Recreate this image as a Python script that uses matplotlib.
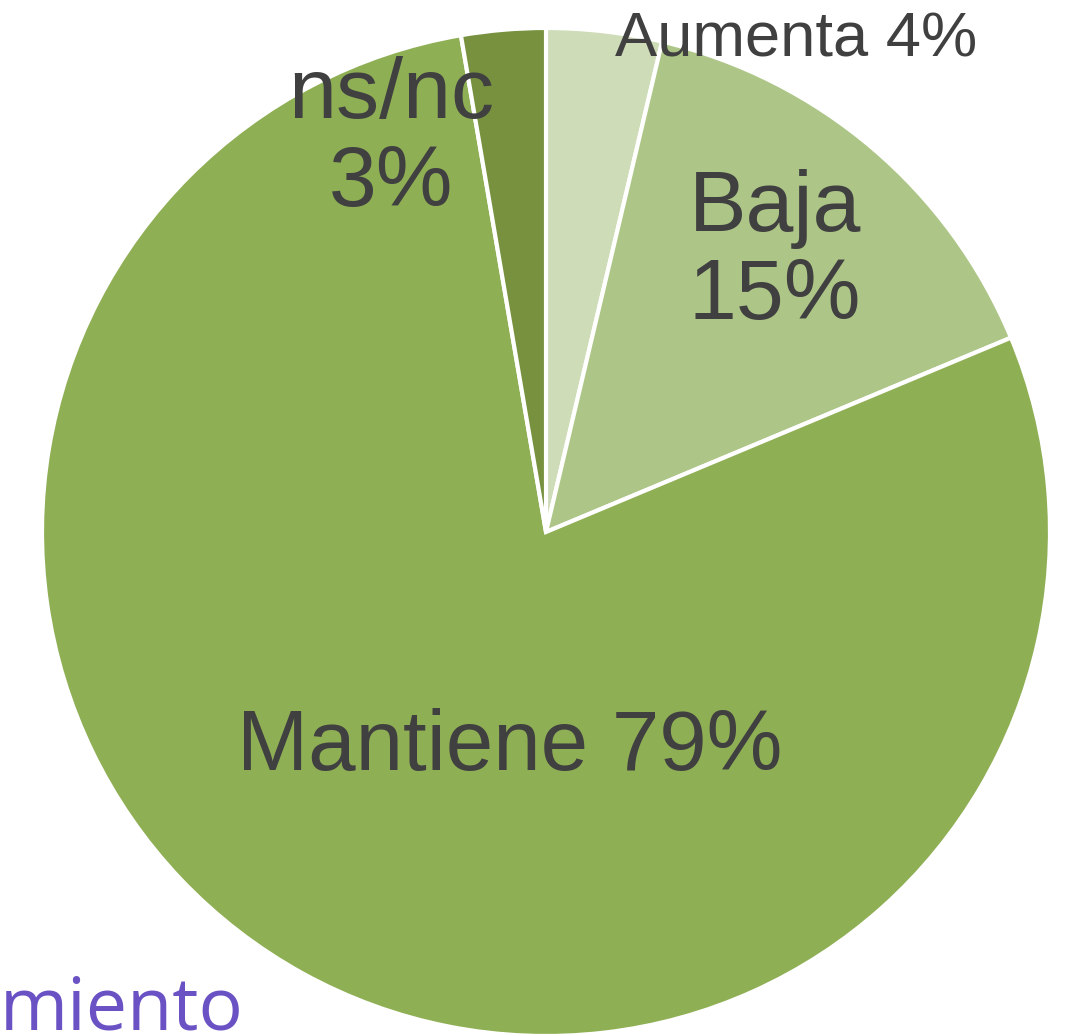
import matplotlib.pyplot as plt

# slice shares (labels show rounded values)
categories = ["Aumenta", "Baja", "Mantiene", "ns/nc"]
shares = [3.7, 15.0, 78.6, 2.7]
pct_labels = ["4%", "15%", "79%", "3%"]
colors = ["#cfdcb8", "#adc687", "#8faf55", "#77913f"]

W, H = 1077, 1035
fig = plt.figure(figsize=(W / 100, H / 100), dpi=100)
ax = fig.add_axes([0, 0, 1, 1])

ax.pie(shares, colors=colors, startangle=90, counterclock=False,
       center=(546, H - 532), radius=504, frame=True,
       wedgeprops=dict(edgecolor="white", linewidth=3))
ax.set_xlim(0, W)
ax.set_ylim(0, H)
ax.set_aspect("equal")
ax.axis("off")

txt = dict(family="Liberation Sans", color="#404040", ha="center", va="center")
ax.text(796, H - 40, f"{categories[0]} {pct_labels[0]}", fontsize=45.5, **txt)
ax.text(775, H - 253, f"{categories[1]}\n{pct_labels[1]}", fontsize=62,
        linespacing=1.14, **txt)
ax.text(510, H - 748, f"{categories[2]} {pct_labels[2]}", fontsize=61.5, **txt)
ax.text(391, H - 140, f"{categories[3]}\n{pct_labels[3]}", fontsize=62,
        linespacing=1.12, **txt)

# cut-off title fragment at the bottom left
ax.text(0, H - 1029, "miento", fontsize=53, family="Open Sans",
        color="#6b52c4", ha="left", va="baseline")

fig.savefig("out.png", dpi=100)
